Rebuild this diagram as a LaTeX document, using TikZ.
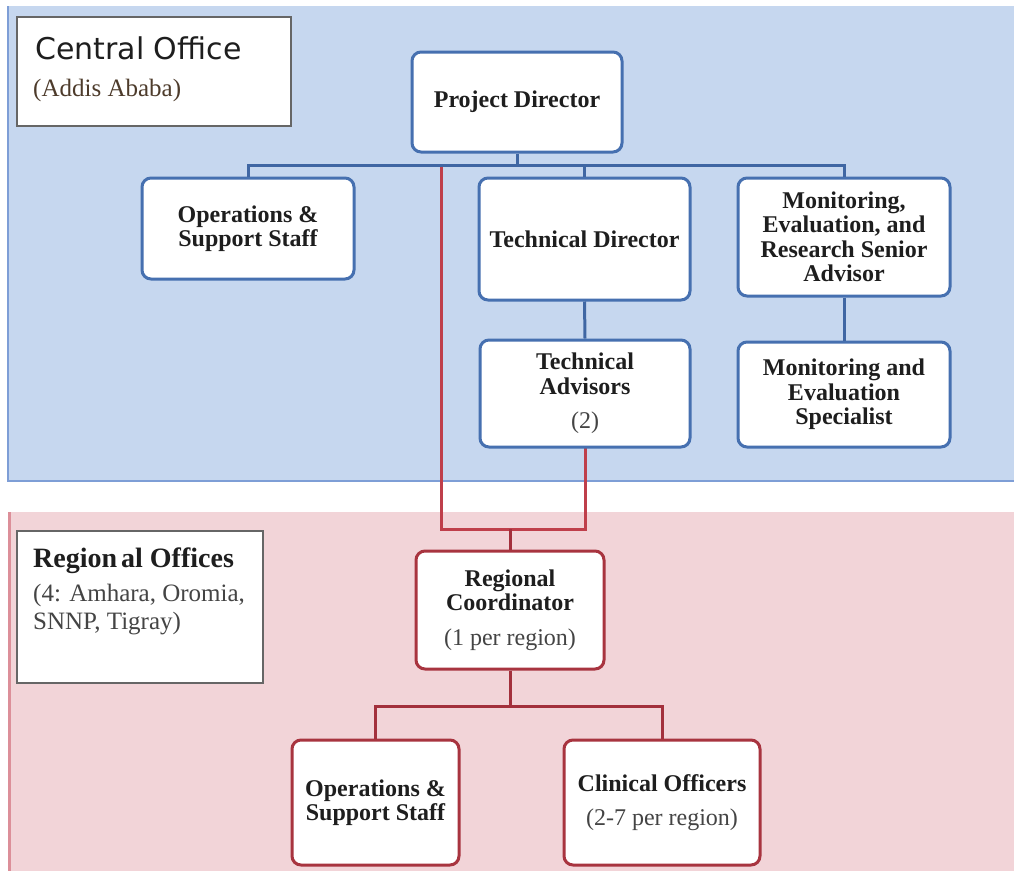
\documentclass[tikz,border=0pt]{standalone}
\usepackage{fontspec}
\setmainfont{Liberation Serif}
\newfontfamily\headsans{DejaVu Sans}
\definecolor{bluebg}{HTML}{C6D7EF}
\definecolor{blueedge}{HTML}{7E9ED6}
\definecolor{pinkbg}{HTML}{F2D4D8}
\definecolor{pinkedge}{HTML}{DC8F99}
\definecolor{boxblue}{HTML}{4670B0}
\definecolor{lineblue}{HTML}{3F66A3}
\definecolor{boxred}{HTML}{A8343F}
\definecolor{linered}{HTML}{A3303C}
\definecolor{loopred}{HTML}{BF3F4B}
\definecolor{labeltext}{HTML}{1E1E1E}
\definecolor{subgray}{HTML}{444444}
\definecolor{brownish}{HTML}{4D3B2B}
\definecolor{framegray}{HTML}{666666}
\newcommand\lblfont{\fontsize{24}{24.5}\selectfont\bfseries}
\begin{document}
\begin{tikzpicture}[x=1pt,y=-1pt,
  bbox/.style={draw=boxblue, fill=white, line width=3pt, rounded corners=9pt,
    align=center, inner sep=0pt, font=\lblfont, text=labeltext},
  rbox/.style={bbox, draw=boxred},
  frame/.style={draw=framegray, fill=white, line width=2pt, inner sep=0pt},
  bline/.style={draw=lineblue, line width=3pt},
  rline/.style={draw=linered, line width=3pt},
  lline/.style={draw=loopred, line width=3pt},
  sub/.style={text=subgray}
]
\useasboundingbox (0,0) rectangle (1014,871);
% regions
\fill[bluebg] (8,6) rectangle (1014,481);
\draw[blueedge, line width=1.5pt] (8,6) -- (8,481) -- (1014,481);
\fill[pinkbg] (8,512) rectangle (1014,871);
\draw[pinkedge, line width=3pt] (9.5,512) -- (9.5,871);

% label frames
\node[frame, minimum width=274, minimum height=109] (coframe) at (154,71.5) {};
\node[anchor=base west, inner sep=0pt, font=\headsans\fontsize{30}{36}\selectfont, text=labeltext] (cotitle) at (35,59) {Central Office};
\node[anchor=base west, inner sep=0pt, font=\fontsize{25}{28}\selectfont, text=brownish] (cosub) at (33,96) {(Addis Ababa)};

\node[frame, minimum width=246, minimum height=152] (roframe) at (140,607) {};
\node[anchor=base west, inner sep=0pt, font=\fontsize{28}{30}\selectfont\bfseries, text=labeltext] (rotitle) at (33,567) {Region\hspace{4pt}al Offices};
\node[anchor=base west, inner sep=0pt, font=\fontsize{25}{28}\selectfont, text=subgray] (rosub1) at (33,601) {(4: Amhara, Oromia,};
\node[anchor=base west, inner sep=0pt, font=\fontsize{25}{28}\selectfont, text=subgray] (rosub2) at (33,629) {SNNP, Tigray)};

% coordinates for buses
\coordinate (busb) at (0,165);
\coordinate (loopstart) at (441,165);
\coordinate (loopbot) at (441,529);
\coordinate (busr) at (0,706);

% connectors (drawn before boxes)
\draw[lline] (loopstart) -- (loopbot) -- (585,529) -- (585,447);

% blue boxes
\node[bbox, minimum width=210, minimum height=100] (pd) at (517,102) {Project Director};
\node[bbox, minimum width=212, minimum height=101] (opstop) at (248,228.5) {Operations \&\\Support Staff};
\node[bbox, minimum width=211, minimum height=122] (td) at (584.5,239) {Technical Director};
\node[bbox, minimum width=212, minimum height=118] (mers) at (844,237) {Monitoring,\\Evaluation, and\\Research Senior\\Advisor};
\node[bbox, minimum width=210, minimum height=107] (ta) at (585,393.5) {Technical\\Advisors\\[10pt]{\mdseries\color{subgray}(2)}};
\node[bbox, minimum width=212, minimum height=105] (mes) at (844,394.5) {Monitoring and\\Evaluation\\Specialist};

% red boxes
\node[rbox, minimum width=188, minimum height=118] (rc) at (510,610) {Regional\\Coordinator\\[10pt]{\mdseries\color{subgray}(1 per region)}};
\node[rbox, minimum width=167, minimum height=125] (opsbot) at (375.5,802.5) {Operations \&\\Support Staff};
\node[rbox, minimum width=196, minimum height=125] (clin) at (662,802.5) {Clinical Officers\\[10pt]{\mdseries\color{subgray}(2-7 per region)}};

% blue connectors
\draw[bline] (pd.south) -- (pd.south |- busb);
\draw[bline] (opstop.north) -- (opstop.north |- busb) -- (mers.north |- busb) -- (mers.north);
\draw[bline] (td.north) -- (td.north |- busb);
\draw[bline] (td.south) -- (ta.north);
\draw[bline] (mers.south) -- (mes.north);

% red connectors
\draw[lline] (ta.south) -- (ta.south |- loopbot);
\draw[rline] (rc.north) -- (rc.north |- loopbot);
\draw[rline] (rc.south) -- (rc.south |- busr);
\draw[rline] (opsbot.north) -- (opsbot.north |- busr) -- (clin.north |- busr) -- (clin.north);
\end{tikzpicture}
\end{document}
